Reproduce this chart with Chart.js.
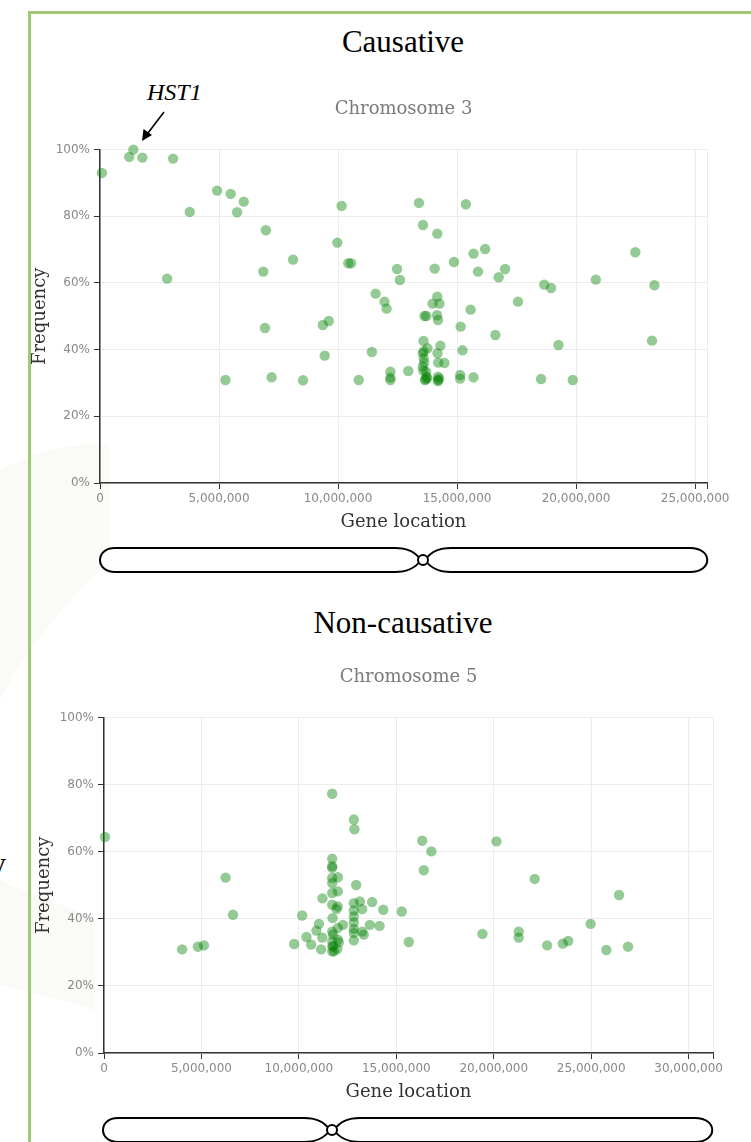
<!DOCTYPE html>
<html>
<head>
<meta charset="utf-8">
<script src="https://cdn.jsdelivr.net/npm/chart.js@4.4.1/dist/chart.umd.min.js"></script>
<style>
  body { margin: 0; background: #fff; width: 751px; height: 1142px; overflow: hidden; position: relative; }
  .frame { position: absolute; left: 28px; top: 11px; width: 900px; height: 1300px; border-left: 3px solid #a2c874; border-top: 3px solid #a2c874; }
  .big { position: absolute; left: 0; width: 806px; text-align: center; font-family: 'Liberation Serif', serif; font-size: 31px; color: #000; }
  canvas { position: absolute; left: 0; }
  svg { position: absolute; left: 0; top: 0; }
</style>
</head>
<body>
<svg width="751" height="1142">
  <path d="M0 470 C40 450 80 440 110 445 L110 560 C70 600 30 640 0 700 Z" fill="#fafbf7"/>
  <path d="M0 880 C30 895 70 905 95 920 L95 1010 C60 1000 25 990 0 985 Z" fill="#fafbf7"/>
</svg>
<div class="frame"></div>
<div style="position:absolute;left:-9px;top:846px;font-family:'Liberation Serif',serif;font-size:30px;">y</div>

<div class="big" style="top:24px;">Causative</div>
<div class="big" style="top:605px;">Non-causative</div>
<div style="position:absolute;left:147px;top:79px;font-family:'Liberation Serif',serif;font-style:italic;font-size:24px;">HST1</div>

<canvas id="chr3Chart" width="751" height="443" style="top:90px;"></canvas>
<canvas id="chr5Chart" width="751" height="443" style="top:660px;"></canvas>

<svg width="751" height="1142" style="pointer-events:none;">
  <line x1="164" y1="112" x2="148" y2="133" stroke="#000" stroke-width="1.6"/>
  <polygon points="142,141 143.5,129 152,135" fill="#000"/>
  <g fill="#fff" stroke="#000" stroke-width="2">
    <path d="M421 560 C414 550 405 548 395 548 L115 548 C95 548 95 572 115 572 L395 572 C405 572 414 570 421 560 Z"/>
    <path d="M425 560 C432 550 441 548 451 548 L690 548 C713 548 713 572 690 572 L451 572 C441 572 432 570 425 560 Z"/>
    <circle cx="423" cy="560" r="5"/>
    <path d="M330 1130 C323 1120 314 1118 304 1118 L118 1118 C98 1118 98 1142 118 1142 L304 1142 C314 1142 323 1140 330 1130 Z"/>
    <path d="M334 1130 C341 1120 350 1118 360 1118 L695 1118 C718 1118 718 1142 695 1142 L360 1142 C350 1142 341 1140 334 1130 Z"/>
    <circle cx="332" cy="1130" r="5"/>
  </g>
</svg>

<script>
// chromosome 3 (causative)
const chr3Pos = [
  80000, 1230000, 1400000, 1780000, 3070000, 2820000, 3770000, 4920000, 5490000, 5760000,
  6040000, 5270000, 6860000, 6930000, 6970000, 7210000, 8110000, 8530000, 9360000, 9440000,
  9610000, 9970000, 10150000, 10430000, 10550000, 10870000, 11420000, 11580000, 11950000, 12040000,
  12200000, 12200000, 12200000, 12480000, 12600000, 12950000, 13400000, 13570000, 13590000, 13630000,
  13710000, 13760000, 13560000, 13600000, 13620000, 13560000, 13700000, 13580000, 13720000, 13680000,
  13750000, 13650000, 13970000, 14060000, 14170000, 14170000, 14260000, 14160000, 14200000, 14300000,
  14180000, 14210000, 14470000, 14200000, 14200000, 14250000, 14870000, 15130000, 15130000, 15150000,
  15230000, 15370000, 15570000, 15690000, 15690000, 15880000, 16180000, 16610000, 16750000, 17020000,
  17560000, 18530000, 18660000, 18950000, 19260000, 19860000, 20830000, 22490000, 23190000, 23290000,
  13600000, 14200000
];
const chr3Freq = [
  93.0, 97.8, 100, 97.6, 97.3, 61.3, 81.3, 87.7, 86.7, 81.2,
  84.4, 30.9, 63.4, 46.5, 75.8, 31.7, 67.0, 30.8, 47.4, 38.2,
  48.6, 72.1, 83.1, 65.9, 65.9, 30.9, 39.3, 56.8, 54.4, 52.3,
  33.4, 31.6, 30.9, 64.2, 60.9, 33.6, 84.0, 77.4, 42.6, 50.1,
  50.1, 40.4, 38.9, 37.4, 36.1, 34.9, 33.4, 33.7, 31.9, 31.1,
  31.4, 30.9, 53.8, 64.3, 74.8, 55.9, 53.8, 50.3, 48.9, 41.2,
  38.9, 36.1, 36.0, 31.9, 30.9, 31.3, 66.3, 32.4, 31.3, 46.9,
  39.8, 83.6, 52.0, 68.8, 31.7, 63.4, 70.2, 44.4, 61.7, 64.2,
  54.4, 31.2, 59.5, 58.5, 41.4, 30.9, 61.0, 69.2, 42.7, 59.3,
  39.5, 30.6
];

// chromosome 5 (non-causative)
const chr5Pos = [
  50000, 4010000, 4820000, 5130000, 6240000, 6620000, 9760000, 10170000, 10390000, 10630000,
  10900000, 11030000, 11200000, 11140000, 11210000, 11710000, 11710000, 11710000, 11710000, 11710000,
  11710000, 11710000, 11710000, 11730000, 11710000, 11750000, 11710000, 11720000, 11760000, 11710000,
  11800000, 12000000, 12000000, 11990000, 11930000, 12000000, 12000000, 11970000, 12260000, 12050000,
  12820000, 12850000, 12820000, 12820000, 12820000, 12820000, 12820000, 12820000, 12820000, 12940000,
  13130000, 13250000, 13250000, 13330000, 13640000, 13760000, 14140000, 14330000, 15280000, 15640000,
  16330000, 16410000, 16800000, 19420000, 20140000, 21280000, 21280000, 22100000, 22740000, 23540000,
  23820000, 24970000, 25780000, 26430000, 26890000
];
const chr5Freq = [
  64.4, 30.9, 31.7, 32.1, 52.3, 41.2, 32.5, 41.0, 34.6, 32.3,
  36.5, 38.5, 34.4, 30.9, 46.1, 77.3, 57.9, 55.7, 55.2, 52.2,
  50.7, 47.7, 44.2, 40.2, 36.2, 35.3, 33.3, 31.8, 31.8, 30.3,
  30.3, 52.4, 48.2, 43.7, 42.9, 37.3, 33.8, 31.0, 38.2, 33.0,
  69.6, 66.7, 44.7, 42.5, 40.7, 38.9, 37.0, 35.8, 33.6, 50.1,
  45.2, 42.9, 36.2, 35.3, 38.2, 45.0, 37.9, 42.7, 42.2, 33.1,
  63.3, 54.5, 60.1, 35.5, 63.1, 36.2, 34.4, 51.9, 32.1, 32.6,
  33.4, 38.5, 30.7, 47.1, 31.7
];

const freqTicks = [0, 20, 40, 60, 80, 100];
const chr3Ticks = [0, 5000000, 10000000, 15000000, 20000000, 25000000];
const chr5Ticks = [0, 5000000, 10000000, 15000000, 20000000, 25000000, 30000000];

Chart.defaults.font.family = "'DejaVu Sans', sans-serif";
Chart.defaults.animation = false;

function makePoints(pos, freq) {
  let pts = [];
  for (let i = 0; i < pos.length; i++) {
    pts.push({ x: pos[i], y: freq[i] });
  }
  return pts;
}

function drawChromosome(id, name, pos, freq, chrLen, xTicks, opt) {
  let ctx = document.getElementById(id);
  return new Chart(ctx, {
    type: 'scatter',
    data: {
      datasets: [{
        data: makePoints(pos, freq),
        backgroundColor: 'rgba(0, 128, 0, 0.42)',
        borderWidth: 0,
        pointRadius: 5.2,
        pointHoverRadius: 5.2,
        clip: false
      }]
    },
    options: {
      responsive: false,
      events: [],
      layout: { padding: { left: 0, right: opt.right, top: 0, bottom: 0 } },
      plugins: {
        legend: { display: false },
        tooltip: { enabled: false },
        title: {
          display: true,
          fullSize: false,
          text: name,
          color: '#7a7a7a',
          font: { family: "'DejaVu Serif', serif", size: 18, weight: 'normal', lineHeight: 1.2 },
          padding: { top: opt.titleTop, bottom: opt.titleBottom }
        }
      },
      scales: {
        x: {
          type: 'linear',
          min: 0,
          max: chrLen,
          afterFit: function (s) { s.height = 50; },
          // ticks every 5 Mb plus the chromosome end (unlabelled)
          afterBuildTicks: function (s) {
            s.ticks = xTicks.concat([chrLen]).map(function (v) { return { value: v }; });
          },
          border: { color: '#333', width: 1.5 },
          grid: { color: '#ececec', tickColor: '#333', tickLength: 6 },
          ticks: {
            autoSkip: false,
            maxRotation: 0,
            padding: 3,
            color: '#888',
            font: { size: 12 },
            callback: function (v) { return xTicks.indexOf(v) >= 0 ? v.toLocaleString('en-US') : ''; }
          },
          title: {
            display: true,
            text: 'Gene location',
            color: '#333',
            font: { family: "'DejaVu Serif', serif", size: 18, lineHeight: 1.2 },
            padding: { top: 0, bottom: 0 }
          }
        },
        y: {
          min: 0,
          max: 100,
          afterFit: function (s) { s.width = opt.left; },
          afterBuildTicks: function (s) { s.ticks = freqTicks.map(function (v) { return { value: v }; }); },
          border: { color: '#333', width: 1.5 },
          grid: { color: '#ececec', tickColor: '#333', tickLength: 6 },
          ticks: {
            padding: 4,
            color: '#888',
            font: { size: 12 },
            callback: function (v) { return v + '%'; }
          },
          title: {
            display: true,
            text: 'Frequency',
            color: '#333',
            font: { family: "'DejaVu Serif', serif", size: 18, lineHeight: 1.2 },
            padding: { top: opt.left - 70, bottom: 0 }
          }
        }
      }
    }
  });
}

drawChromosome('chr3Chart', 'Chromosome 3', chr3Pos, chr3Freq, 25500000, chr3Ticks,
  { left: 100, right: 44, titleTop: 9, titleBottom: 29 });
drawChromosome('chr5Chart', 'Chromosome 5', chr5Pos, chr5Freq, 31250000, chr5Ticks,
  { left: 104, right: 38, titleTop: 7, titleBottom: 29 });
</script>
</body>
</html>
